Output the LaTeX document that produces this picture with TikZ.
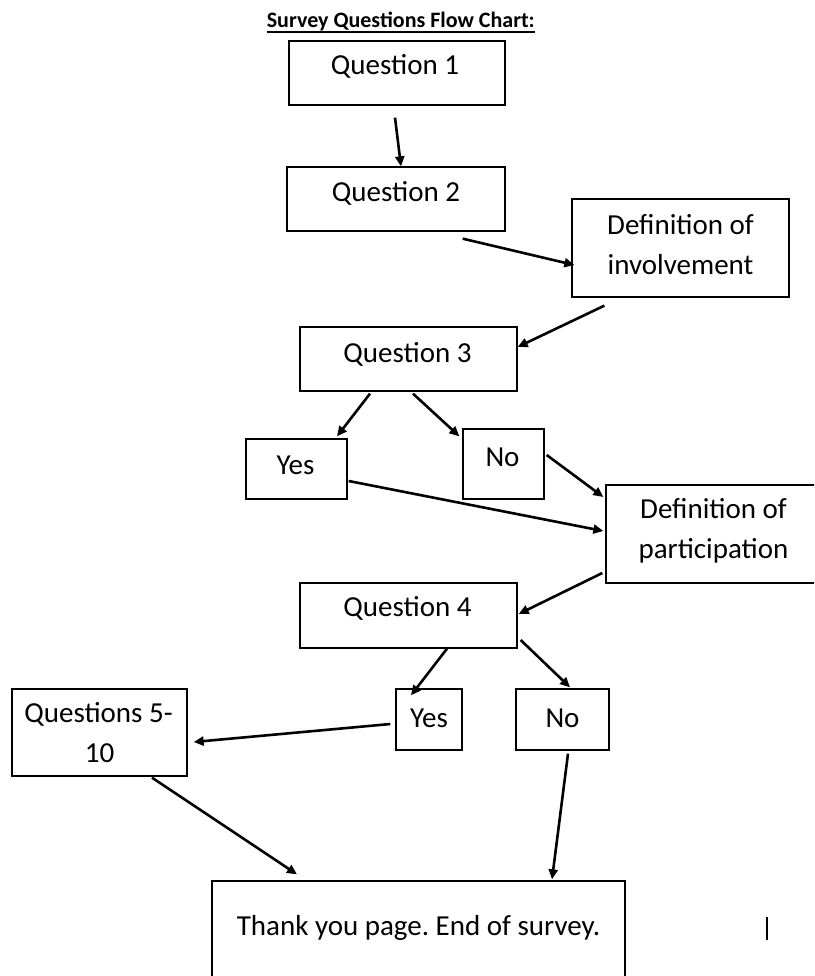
\documentclass[tikz,border=0pt]{standalone}
\usepackage{fontspec}
\setmainfont{Carlito}
\usetikzlibrary{arrows.meta}
\frenchspacing
\begin{document}
\begin{tikzpicture}[x=1pt,y=-1pt,
  box/.style={draw, line width=1.3pt, inner sep=0pt},
  txt/.style={font=\fontsize{29}{39}\selectfont, anchor=base, inner sep=0pt},
  arr/.style={line width=2.6pt, -{Triangle[length=10pt,width=9pt]}},
]
\useasboundingbox (0,0) rectangle (814,976);
\clip (0,0) rectangle (814,976);

% title
\node[anchor=base, inner sep=0pt, font=\fontsize{22}{26}\selectfont\bfseries] (title) at (400.8,28) {Survey Questions Flow Chart:};
\draw[line width=1.2pt] ([yshift=-4pt]title.base west) -- ([yshift=-4pt]title.base east);

% boxes
\node[box, minimum width=216pt, minimum height=64pt] (q1) at (397,73) {};
\node[box, minimum width=218pt, minimum height=64pt] (q2) at (396,199) {};
\node[box, minimum width=217pt, minimum height=98pt] (dinv) at (680.5,248) {};
\node[box, minimum width=217pt, minimum height=64pt] (q3) at (408.5,359) {};
\node[box, minimum width=101pt, minimum height=60pt] (yes1) at (296.5,469) {};
\node[box, minimum width=81pt, minimum height=70pt] (no1) at (503.5,464) {};
\node[box, minimum width=215pt, minimum height=98pt] (dpart) at (713.5,534) {};
\node[box, minimum width=217pt, minimum height=65pt] (q4) at (408.5,615.5) {};
\node[box, minimum width=66pt, minimum height=61pt] (yes2) at (429,719.5) {};
\node[box, minimum width=93pt, minimum height=61pt] (no2) at (562.5,719.5) {};
\node[box, minimum width=175pt, minimum height=87pt] (q5) at (99.5,732.5) {};
\node[box, minimum width=413pt, minimum height=119pt] (thank) at (418.5,940.5) {};

% texts (baselines)
\node[txt] (q1t) at ([shift={(-2,2)}]q1.center) {Question 1};
\node[txt] (q2t) at ([shift={(0,3)}]q2.center) {Question 2};
\node[txt] (dinvt1) at ([shift={(0,-13)}]dinv.center) {Definition of};
\node[txt] (dinvt2) at ([shift={(0,26)}]dinv.center) {involvement};
\node[txt] (q3t) at ([shift={(-1,3)}]q3.center) {Question 3};
\node[txt] (yes1t) at ([shift={(-1,5)}]yes1.center) {Yes};
\node[txt] (no1t) at ([shift={(-1,2)}]no1.center) {No};
\node[txt] (dpartt1) at ([shift={(0,-16)}]dpart.center) {Definition of};
\node[txt] (dpartt2) at ([shift={(0,24)}]dpart.center) {participation};
\node[txt] (q4t) at ([shift={(-1,0.5)}]q4.center) {Question 4};
\node[txt] (yes2t) at ([shift={(0,7.5)}]yes2.center) {Yes};
\node[txt] (no2t) at ([shift={(0,7.5)}]no2.center) {No};
\node[txt] (q5t1) at ([shift={(-1,-10.5)}]q5.center) {Questions 5-};
\node[txt] (q5t2) at ([shift={(0,29.5)}]q5.center) {10};
\node[txt] (thankt) at ([shift={(0,-5.5)}]thank.center) {Thank you page. End of survey.};

% connectors
\draw[arr] ([shift={(-2,12)}]q1.south) -- ([shift={(5,0)}]q2.north);
\draw[arr] ([shift={(-43,7)}]q2.south east) -- ([shift={(3,17)}]dinv.west);
\draw[arr] ([shift={(33,8)}]dinv.south west) -- ([shift={(0,-12)}]q3.east);
\draw[arr] ([shift={(-38.5,2)}]q3.south) -- ([shift={(40.5,-2)}]yes1.north);
\draw[arr] ([shift={(4.5,2)}]q3.south) -- ([shift={(-3,8)}]no1.north west);
\draw[arr] ([shift={(2,-9)}]no1.east) -- ([shift={(-2,-37)}]dpart.west);
\draw[arr] ([shift={(1,12)}]yes1.east) -- ([shift={(-2,-3)}]dpart.west);
\draw[arr] ([shift={(-3,39)}]dpart.west) -- ([shift={(1,-1.5)}]q4.east);
\draw[arr] ([shift={(38.5,0)}]q4.south) -- ([shift={(-18,7)}]yes2.north);
\draw[arr] ([shift={(3,24.5)}]q4.east) -- ([shift={(7.5,-1)}]no2.north);
\draw[arr] ([shift={(-5,4.5)}]yes2.west) -- ([shift={(6,9.5)}]q5.east);
\draw[arr] ([shift={(52.5,1)}]q5.south) -- ([shift={(-121.5,-6)}]thank.north);
\draw[arr] ([shift={(5.5,3)}]no2.south) -- ([shift={(133.5,-1)}]thank.north);

% text cursor mark
\draw[line width=1.5pt] (767,917) -- (767,940);
\end{tikzpicture}
\end{document}
